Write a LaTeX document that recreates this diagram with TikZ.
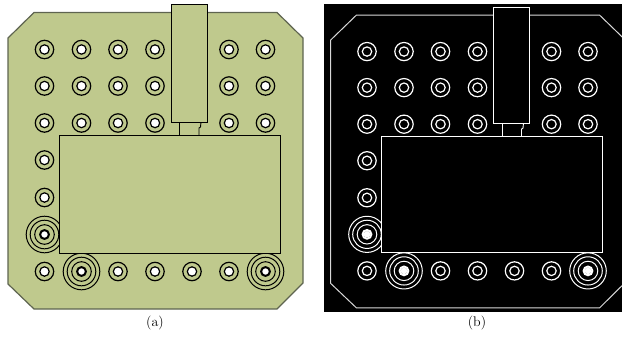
\documentclass[tikz,border=0pt]{standalone}
\definecolor{boardgreen}{HTML}{BFC98D}
\definecolor{edgegray}{HTML}{5E6450}
\definecolor{paneledge}{HTML}{D8D8D8}
\tikzset{
  px/.style={x=1pt,y=-1pt},
  boardline/.style={line width=0.9pt},
  ringline/.style={line width=1.2pt},
  caption/.style={inner sep=0pt,font=\fontsize{14}{16}\selectfont}
}
% #1 x, #2 y : ordinary via; uses \ringc, \holec
\newcommand{\viaring}[2]{%
  \draw[ringline,draw=\ringc] (#1,#2) circle[radius=9.2];
  \draw[ringline,draw=\ringc,fill=\holec] (#1,#2) circle[radius=4.7];
}
\newcommand{\bigvia}[2]{%
  \foreach \r in {18.3,14.3,9.8}{\draw[line width=1pt,draw=\ringc] (#1,#2) circle[radius=\r];}
  \draw[line width=2pt,draw=\ringc,fill=\bigholec] (#1,#2) circle[radius=4.4];
  \fill[\bigdotc] (#1,#2) circle[radius=1.6];
}
\newcommand{\boardshapes}{%
  \foreach \y in {49.5,86,123}{\foreach \x in {44.5,81.5,118,155,229,265.5}{\viaring{\x}{\y}}}
  \foreach \y in {160,197.5}{\viaring{44.5}{\y}}
  \foreach \x in {44.5,118,155,192,229}{\viaring{\x}{271.5}}
  \bigvia{44.5}{234.5}
  \bigvia{81.5}{271.5}
  \bigvia{265.5}{271.5}
  \draw[boardline,draw=\ringc,fill=\bodyc] (59,135) rectangle (280,253);
  \draw[boardline,draw=\ringc] (179.5,122) -- (179.5,135);
  \draw[boardline,draw=\ringc] (199,135) -- (199,128) -- (200.5,127) -- (201,122);
  \draw[boardline,draw=\ringc,fill=\bodyc] (171,4.5) rectangle (207,122);
}
\begin{document}
\begin{tikzpicture}[px]
\useasboundingbox (0,0) rectangle (622,338);
% panel (a)
\def\ringc{black}\def\holec{white}\def\bigholec{white}\def\bigdotc{white}\def\bodyc{boardgreen}
\draw[line width=1.2pt,draw=edgegray,fill=boardgreen]
  (34,12.5) -- (277,12.5) -- (303,38) -- (303,283) -- (277,309) -- (34,309) -- (8,284) -- (8,38) -- cycle;
\boardshapes
\node[caption] (capa) at (155,323.5) {(a)};
% panel (b)
\fill[black] (323.5,4) rectangle (622,312);
\begin{scope}
\clip (323.5,4) rectangle (622,312);
\begin{scope}[xshift=322.5pt,yshift=-2.65pt,yscale=0.988]
\def\ringc{white}\def\holec{black}\def\bigholec{black}\def\bigdotc{white}\def\bodyc{black}
\draw[line width=1pt,draw=paneledge]
  (34,12.5) -- (277,12.5) -- (303,38) -- (303,283) -- (277,309) -- (34,309) -- (8,284) -- (8,38) -- cycle;
\boardshapes
\foreach \cx/\cy in {44.5/234.5,81.5/271.5,265.5/271.5}{\fill[white] (\cx,\cy) circle[radius=3.4];}
\end{scope}
\end{scope}
\node[caption] (capb) at (477,323.5) {(b)};
\end{tikzpicture}
\end{document}
